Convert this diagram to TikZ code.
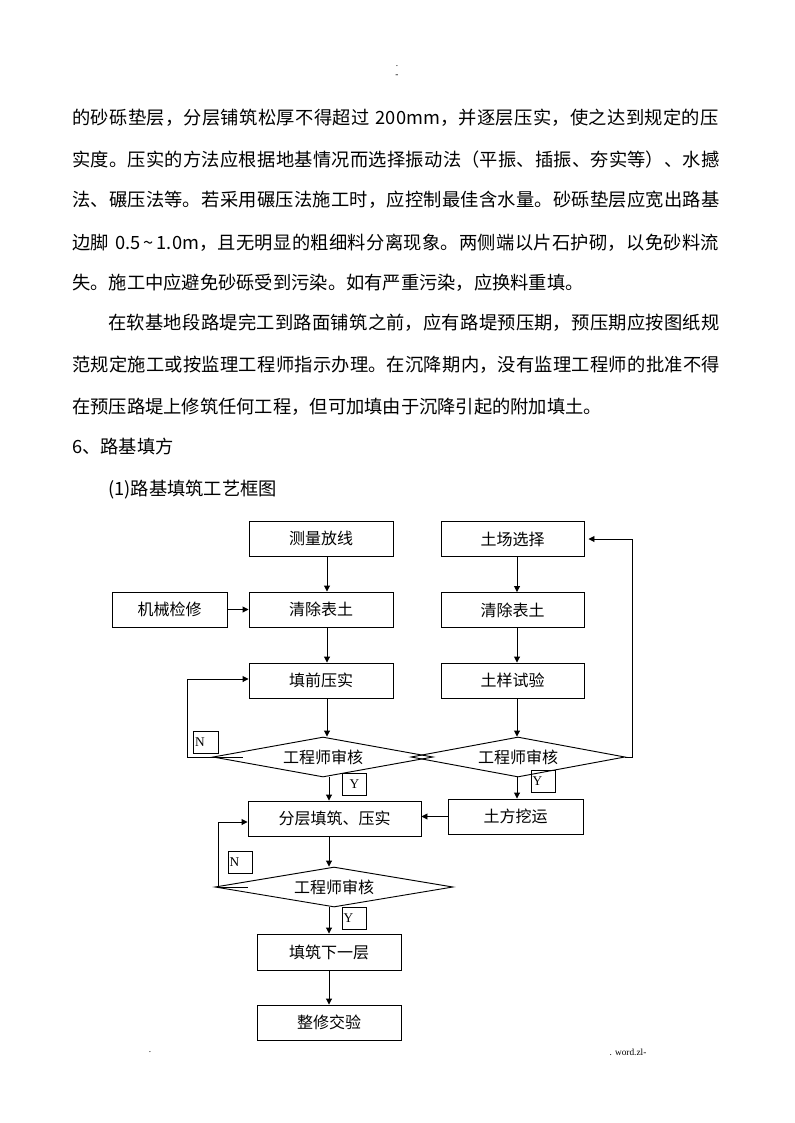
\documentclass[tikz,border=0pt]{standalone}
\usepackage{fontspec}
\setmainfont{Noto Sans CJK SC}
\newfontfamily\serf{Liberation Serif}
\usetikzlibrary{arrows.meta,shapes.geometric,calc}
\XeTeXlinebreaklocale "zh"
\XeTeXlinebreakskip=0pt plus 3pt
\newcommand\Jline[1]{\parfillskip=0pt\relax #1\par}
\begin{document}
\begin{tikzpicture}[x=0.75pt,y=-0.75pt,
  box/.style={draw, line width=0.7pt, inner sep=0pt, minimum height=26.25pt, font=\fontsize{12}{14}\selectfont},
  dia/.style={draw, diamond, aspect=5.5, line width=0.7pt, inner sep=0pt, minimum height=30pt, font=\fontsize{12}{14}\selectfont},
  yn/.style={draw, line width=0.6pt, inner xsep=1pt, inner ysep=0pt, text width=16.5pt, minimum height=16.5pt, align=left, font=\serf\fontsize{10}{11}\selectfont},
  arr/.style={line width=0.7pt, -{Triangle[length=4.5pt,width=4.5pt]}},
  body/.style={anchor=west, inner sep=0pt, font=\fontsize{13.7}{16}\selectfont},
  jline/.style={body, text width=487.5pt},
  tiny/.style={inner sep=0pt, font=\serf\fontsize{7}{8}\selectfont}
]
\useasboundingbox (0,0) rectangle (794,1123);

% header / footer marks
\node[tiny] (hd1) at (397,66) {.};
\node[tiny] (hd2) at (397,76) {-};
\node[tiny] (ft1) at (150,1052) {.};
\node[tiny] (ft2) at (628,1052) {. word.zl-};

% body text
\node[jline] (p1) at (72,118) {\Jline{的砂砾垫层，分层铺筑松厚不得超过 200mm，并逐层压实，使之达到规定的压}};
\node[jline] (p2) at (72,160) {\Jline{实度。压实的方法应根据地基情况而选择振动法（平振、插振、夯实等）、水撼}};
\node[jline] (p3) at (72,200) {\Jline{法、碾压法等。若采用碾压法施工时，应控制最佳含水量。砂砾垫层应宽出路基}};
\node[jline] (p4) at (72,243) {\Jline{边脚 0.5\,\textasciitilde\,1.0m，且无明显的粗细料分离现象。两侧端以片石护砌，以免砂料流}};
\node[body] (p5) at (72,283) {失。施工中应避免砂砾受到污染。如有严重污染，应换料重填。};
\node[body, text width=460.5pt] (q1) at (108,323) {\Jline{在软基地段路堤完工到路面铺筑之前，应有路堤预压期，预压期应按图纸规}};
\node[jline] (q2) at (72,365) {\Jline{范规定施工或按监理工程师指示办理。在沉降期内，没有监理工程师的批准不得}};
\node[body] (q3) at (72,407) {在预压路堤上修筑任何工程，但可加填由于沉降引起的附加填土。};
\node[body] (h6) at (72,447) {6、路基填方};
\node[body] (h1) at (108,490) {(1)路基填筑工艺框图};

% flowchart nodes
\node[box, minimum width=108pt] (m1) at (321,538.5) {测量放线};
\node[box, minimum width=107.25pt] (s1) at (512.5,539) {土场选择};
\node[box, minimum width=86.25pt] (jx) at (169.5,609.5) {机械检修};
\node[box, minimum width=108pt] (c1) at (321,609.5) {清除表土};
\node[box, minimum width=107.25pt] (c2) at (512.5,610) {清除表土};
\node[box, minimum width=108pt] (t1) at (321,680.5) {填前压实};
\node[box, minimum width=107.25pt] (t2) at (512.5,680.5) {土样试验};
\node[dia, minimum width=165pt] (d1) at (323,757) {工程师审核};
\node[dia, minimum width=160.5pt] (d2) at (518,757) {工程师审核};
\node[box, minimum width=129.75pt] (f1) at (334.5,818.5) {分层填筑、压实};
\node[box, minimum width=101.25pt] (tf) at (515.5,816.5) {土方挖运};
\node[dia, minimum width=178.5pt] (d3) at (334,887) {工程师审核};
\node[box, minimum width=108pt, minimum height=27pt] (x1) at (329,952) {填筑下一层};
\node[box, minimum width=108pt] (zx) at (329,1022.5) {整修交验};

\node[yn] (n1) at (206,742) {N};
\node[yn] (y1) at (354.5,784) {\hfil Y};
\node[yn] (y2) at (543.5,781.5) {Y};
\node[yn] (n2) at (240.5,862) {N};
\node[yn] (y3) at (354.5,918) {Y};

% arrow x positions
\coordinate (LX) at (327,0);
\coordinate (RX) at (517,0);
\coordinate (BX) at (329,0);

% connectors
\draw[arr] (m1.south -| LX) -- (c1.north -| LX);
\draw[arr] (c1.south -| LX) -- (t1.north -| LX);
\draw[arr] (t1.south -| LX) -- (d1.north -| LX);
\draw[arr] (s1.south -| RX) -- (c2.north -| RX);
\draw[arr] (c2.south -| RX) -- (t2.north -| RX);
\draw[arr] (t2.south -| RX) -- (d2.north -| RX);
\draw[arr] (jx.east) -- (c1.west);
\draw[arr] (d1.south -| BX) -- (f1.north -| BX);
\draw[arr] (d2.south -| RX) -- (tf.north -| RX);
\draw[arr] (tf.west) -- (tf.west -| f1.east);
\draw[arr] (f1.south -| BX) -- (d3.north -| BX);
\draw[arr] (d3.south -| BX) -- (x1.north -| BX);
\draw[arr] (x1.south -| BX) -- (zx.north -| BX);

% feedback loops
\draw[arr] ($(d1.west)+(30,0)$) -- ($(d1.west)+(-25,0)$) |- ($(t1.west)+(0,-1.5)$);
\draw[arr, shorten >=3pt] (d2.east) -- ($(d2.east)+(7,0)$) |- (s1.east);
\draw[arr] ($(d3.west)+(33,0)$) -- ($(d3.west)+(4,0)$) |- ($(f1.west)+(0,3.5)$);
\end{tikzpicture}
\end{document}
